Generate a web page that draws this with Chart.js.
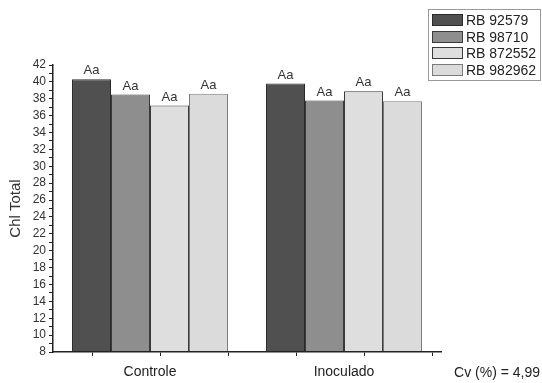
<!DOCTYPE html>
<html>
<head>
<meta charset="utf-8">
<script src="https://cdn.jsdelivr.net/npm/chart.js@4.4.1/dist/chart.umd.min.js"></script>
<style>
  html, body { margin: 0; padding: 0; background: #fff; }
</style>
</head>
<body>
<canvas id="chlChart" width="542" height="383"></canvas>
<script>
// ==== DATA ====
const categories = ["Controle", "Inoculado"];
const varieties = ["RB 92579", "RB 98710", "RB 872552", "RB 982962"];
const rb92579 = [40.3, 39.8];
const rb98710 = [38.5, 37.8];
const rb872552 = [37.2, 38.9];
const rb982962 = [38.6, 37.7];
const letters = [
  ["Aa", "Aa"],
  ["Aa", "Aa"],
  ["Aa", "Aa"],
  ["Aa", "Aa"],
];
const yMin = 8;
const yMax = 42;
const xMinorTicks = [0, 1, 2, 3, 4, 5];
const cvNote = "Cv (%) = 4,99";

const fontFamily = "'Liberation Sans', Arial, sans-serif";
const textColor = "#333";

// ==== PLUGINS ====
// "Aa" letters above each bar
const barLetters = {
  id: "barLetters",
  afterDatasetsDraw(chart) {
    const ctx = chart.ctx;
    ctx.save();
    ctx.font = "13px " + fontFamily;
    ctx.fillStyle = textColor;
    ctx.textAlign = "center";
    ctx.textBaseline = "bottom";
    chart.data.datasets.forEach((ds, i) => {
      chart.getDatasetMeta(i).data.forEach((bar, j) => {
        ctx.fillText(letters[i][j], bar.x, bar.y - 2);
      });
    });
    ctx.restore();
  },
};

// boxed legend in the top right corner
const boxLegend = {
  id: "boxLegend",
  afterDraw(chart) {
    const ctx = chart.ctx;
    const x0 = chart.width - 114;
    const y0 = 9;
    ctx.save();
    ctx.fillStyle = "#fff";
    ctx.fillRect(x0, y0, 113, 72);
    ctx.strokeStyle = "#999";
    ctx.lineWidth = 1;
    ctx.strokeRect(x0 + 0.5, y0 + 0.5, 112, 71);
    ctx.font = "14px " + fontFamily;
    ctx.textBaseline = "middle";
    chart.data.datasets.forEach((ds, i) => {
      const cy = Math.round(y0 + 11 + i * 16.7);
      ctx.fillStyle = ds.backgroundColor;
      ctx.fillRect(x0 + 4, cy - 6, 31, 12);
      ctx.strokeStyle = ds.borderColor;
      ctx.strokeRect(x0 + 4.5, cy - 5.5, 30, 11);
      ctx.fillStyle = "#222";
      ctx.fillText(ds.label, x0 + 38, cy + 1);
    });
    ctx.restore();
  },
};

// coefficient of variation note, bottom right
const cvLabel = {
  id: "cvLabel",
  afterDraw(chart) {
    const ctx = chart.ctx;
    ctx.save();
    ctx.font = "14px " + fontFamily;
    ctx.fillStyle = "#222";
    ctx.textAlign = "right";
    ctx.textBaseline = "middle";
    ctx.fillText(cvNote, chart.width - 2, chart.chartArea.bottom + 21);
    ctx.restore();
  },
};

// ==== CHART ====
const seriesValues = [rb92579, rb98710, rb872552, rb982962];
const fills = ["#505050", "#8e8e8e", "#dedede", "#dbdbdb"];
const borders = ["#2a2a2a", "#3a3a3a", "#3a3a3a", "#7a7a7a"];

new Chart(document.getElementById("chlChart").getContext("2d"), {
  type: "bar",
  data: {
    labels: categories,
    datasets: varieties.map((name, i) => ({
      label: name,
      data: seriesValues[i],
      backgroundColor: fills[i],
      borderColor: borders[i],
      borderWidth: 1,
      barPercentage: 1.0,
      categoryPercentage: 0.804,
      clip: 0,
    })),
  },
  options: {
    responsive: false,
    animation: false,
    devicePixelRatio: 1,
    layout: { padding: { top: 65, right: 101, bottom: 0, left: 0 } },
    plugins: {
      legend: { display: false },
      tooltip: { enabled: false },
    },
    scales: {
      x: {
        type: "category",
        position: "bottom",
        weight: 1,
        grid: { display: false, drawTicks: false },
        border: { display: false },
        ticks: {
          color: "#222",
          font: { family: fontFamily, size: 14 },
          padding: 7,
          maxRotation: 0,
        },
        afterFit(axis) { axis.height = 26; },
      },
      // minor tick marks along the bottom axis line
      xMinor: {
        type: "linear",
        position: "bottom",
        weight: 0,
        offset: false,
        min: -0.574,
        max: 5.132,
        afterBuildTicks(axis) { axis.ticks = xMinorTicks.map(v => ({ value: v })); },
        grid: { offset: false, drawOnChartArea: false, tickLength: 4, color: "#222", z: 1 },
        border: { display: true, color: "#222", width: 1.5, z: 1 },
        ticks: { display: false },
        afterFit(axis) { axis.height = 5; },
      },
      y: {
        min: yMin,
        max: yMax,
        grid: { drawOnChartArea: false, tickLength: 4, color: "#222", z: 1 },
        border: { display: true, color: "#222", width: 1.5, z: 1 },
        ticks: {
          stepSize: 1,
          autoSkip: false,
          padding: 3,
          color: textColor,
          font: { family: fontFamily, size: 12 },
          callback: v => (v % 2 === 0 ? v : ""),
        },
        title: {
          display: true,
          text: "Chl Total",
          color: textColor,
          font: { family: fontFamily, size: 15 },
          padding: { top: 7, bottom: 0 },
        },
        afterFit(axis) { axis.width = 53; },
      },
    },
  },
  plugins: [barLetters, boxLegend, cvLabel],
});
</script>
</body>
</html>
